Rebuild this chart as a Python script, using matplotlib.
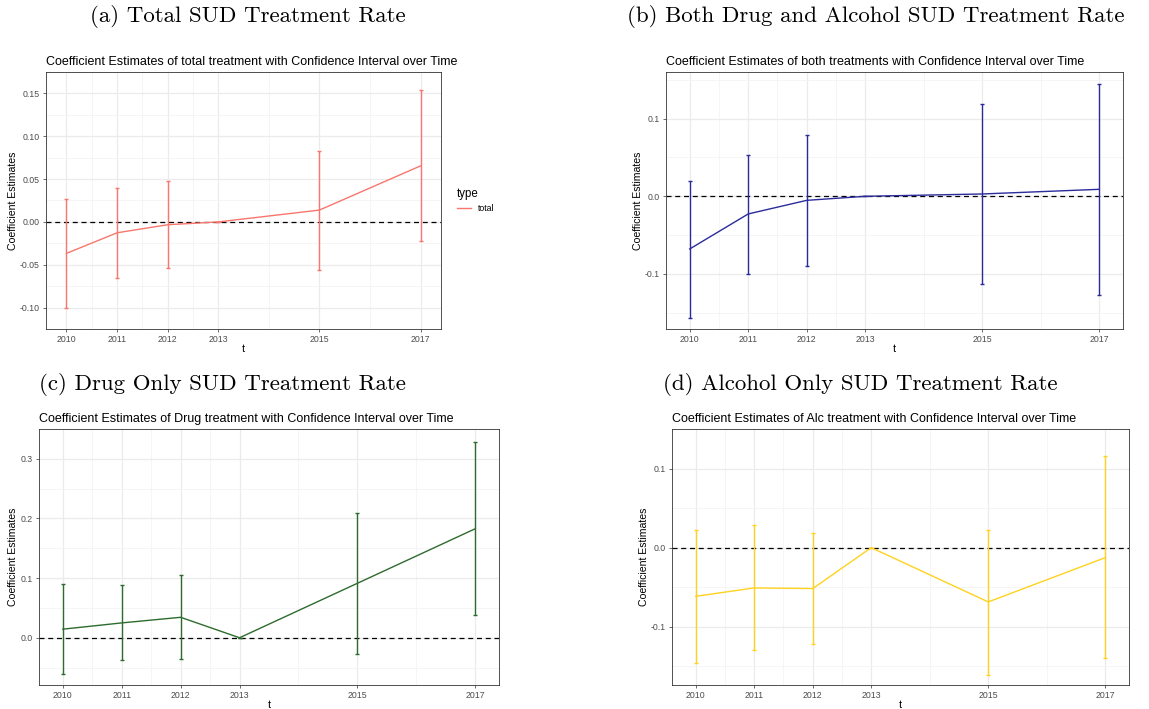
import numpy as np
import matplotlib.pyplot as plt

plt.rcParams['font.family'] = ['Liberation Sans', 'DejaVu Sans']

years = [2010, 2011, 2012, 2013, 2015, 2017]
year_labels = ['2010', '2011', '2012', '2013', '2015', '2017']

# total treatment
total_est = [-0.0367, -0.0127, -0.0033, 0.0, 0.0138, 0.0654]
total_lo = [-0.1006, -0.0654, -0.0538, 0.0, -0.0556, -0.0222]
total_hi = [0.0272, 0.0400, 0.0480, 0.0, 0.0828, 0.1540]

# both drug and alcohol
both_est = [-0.0678, -0.0227, -0.0052, 0.0, 0.0030, 0.0090]
both_lo = [-0.1560, -0.0996, -0.0893, 0.0, -0.1124, -0.1270]
both_hi = [0.0193, 0.0528, 0.0794, 0.0, 0.1189, 0.1450]

# drug only
drug_est = [0.0144, 0.0249, 0.0343, 0.0, 0.0913, 0.1827]
drug_lo = [-0.0609, -0.0376, -0.0349, 0.0, -0.0266, 0.0382]
drug_hi = [0.0897, 0.0880, 0.1050, 0.0, 0.2090, 0.3277]

# alcohol only
alc_est = [-0.0615, -0.0509, -0.0517, 0.0, -0.0686, -0.0126]
alc_lo = [-0.1456, -0.1294, -0.1219, 0.0, -0.1606, -0.1400]
alc_hi = [0.0221, 0.0284, 0.0185, 0.0, 0.0229, 0.1160]

W, H = 1149, 709
fig = plt.figure(figsize=(W / 100, H / 100), dpi=100)


def box(left, top, right, bottom):
    return [left / W, 1 - bottom / H, (right - left) / W, (bottom - top) / H]


def panel(rect, est, lo, hi, color, title, yticks, ylabels, ylim):
    ax = fig.add_axes(rect)
    est = np.array(est)
    lo = np.array(lo)
    hi = np.array(hi)
    ax.set_xlim(2009.595, 2017.405)
    ax.set_ylim(*ylim)
    ax.set_xticks(years)
    ax.set_xticklabels(year_labels)
    ax.set_xticks([2010.5, 2011.5, 2012.5, 2014, 2016], minor=True)
    ax.set_yticks(yticks)
    ax.set_yticklabels(ylabels)
    step = yticks[1] - yticks[0]
    mids = [yticks[0] - step / 2] + [t + step / 2 for t in yticks]
    ax.set_yticks(mids, minor=True)
    ax.grid(which='major', color='#EBEBEB', lw=0.9)
    ax.grid(which='minor', color='#F4F4F4', lw=0.6)
    ax.set_axisbelow(True)
    ax.tick_params(which='minor', length=0)
    ax.tick_params(which='major', length=2.5, width=0.5, color='#333333',
                   labelsize=6.3, labelcolor='#4D4D4D', pad=2)
    for s in ax.spines.values():
        s.set_color('#333333')
        s.set_linewidth(0.6)
    ax.axhline(0, color='black', ls=(0, (4, 3)), lw=0.9, zorder=2)
    ax.errorbar(years, est, yerr=[est - lo, hi - est], fmt='none',
                ecolor=color, elinewidth=1.0, capsize=1.6, capthick=1.0, zorder=3)
    line, = ax.plot(years, est, color=color, lw=1.0, zorder=4)
    ax.set_title(title, loc='left', fontsize=9.0, pad=5)
    ax.set_xlabel('t', fontsize=7.8, labelpad=0)
    ax.set_ylabel('Coefficient Estimates', fontsize=7.6, labelpad=1.5)
    return ax, line


ax_a, line_a = panel(box(46, 72, 441, 329), total_est, total_lo, total_hi, '#F8766D',
                     'Coefficient Estimates of total treatment with Confidence Interval over Time',
                     [-0.10, -0.05, 0.0, 0.05, 0.10, 0.15],
                     ['-0.10', '-0.05', '0.00', '0.05', '0.10', '0.15'], (-0.1123, 0.1667))
ax_a.legend([line_a], ['total'], title='type', loc='center left',
            bbox_to_anchor=(1.02, 0.5), frameon=False, fontsize=6.3,
            title_fontsize=8.3, handlelength=1.6, alignment='left')

panel(box(666, 72, 1123, 329), both_est, both_lo, both_hi, '#2B2B9B',
      'Coefficient Estimates of both treatments with Confidence Interval over Time',
      [-0.1, 0.0, 0.1], ['-0.1', '0.0', '0.1'], (-0.1708, 0.160))

panel(box(39, 429, 499, 685), drug_est, drug_lo, drug_hi, '#2E6B2E',
      'Coefficient Estimates of Drug treatment with Confidence Interval over Time',
      [0.0, 0.1, 0.2, 0.3], ['0.0', '0.1', '0.2', '0.3'], (-0.0792, 0.346))

panel(box(672, 429, 1129, 685), alc_est, alc_lo, alc_hi, '#FFD21F',
      'Coefficient Estimates of Alc treatment with Confidence Interval over Time',
      [-0.1, 0.0, 0.1], ['-0.1', '0.0', '0.1'], (-0.1736, 0.1294))

# sub-figure captions
cap = dict(fontfamily='cmr10', fontsize=16.5, ha='center', va='center')
fig.text(248 / W, 1 - 16 / H, '(a) Total SUD Treatment Rate', **cap)
fig.text(876 / W, 1 - 16 / H, '(b) Both Drug and Alcohol SUD Treatment Rate', **cap)
fig.text(222 / W, 1 - 384 / H, '(c) Drug Only SUD Treatment Rate', **cap)
fig.text(860 / W, 1 - 384 / H, '(d) Alcohol Only SUD Treatment Rate', **cap)

fig.savefig('out.png', dpi=100)
